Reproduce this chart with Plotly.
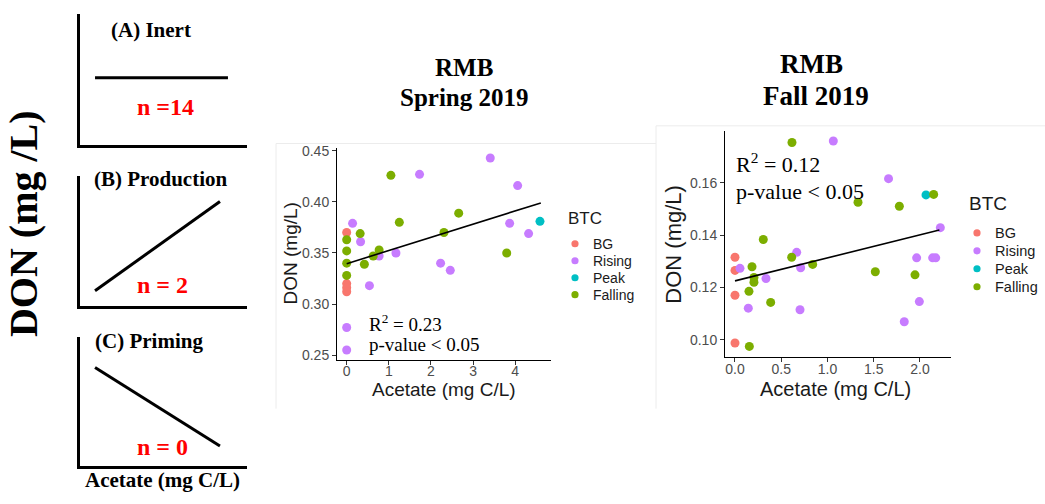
import plotly.graph_objects as go

W, H = 1045, 504

# ---- BTC phase colours (ggplot hue palette) ----
COLORS = {"BG": "#F8766D", "Rising": "#C77CFF", "Peak": "#00BFC4", "Falling": "#7CAE00"}
PHASES = ["BG", "Rising", "Peak", "Falling"]
LEGEND_TITLE = "BTC"

# ---- RMB Spring 2019: acetate (mg C/L) vs DON (mg/L) ----
spring_bg_x = [0, 0, 0, 0]
spring_bg_y = [0.370, 0.320, 0.316, 0.312]
spring_rising_x = [0.14, 0.33, 0.54, 0.77, 1.17, 1.73, 2.23, 2.46, 3.41, 4.06, 3.87, 4.32, 0, 0]
spring_rising_y = [0.379, 0.361, 0.318, 0.347, 0.350, 0.427, 0.340, 0.333, 0.443, 0.416, 0.379, 0.369, 0.277, 0.255]
spring_peak_x = [4.59]
spring_peak_y = [0.381]
spring_falling_x = [0, 0, 0, 0, 0.32, 0.42, 0.63, 0.77, 1.05, 1.25, 2.31, 2.66, 3.80]
spring_falling_y = [0.363, 0.352, 0.340, 0.328, 0.369, 0.339, 0.347, 0.353, 0.426, 0.380, 0.370, 0.389, 0.350]
spring_fit_x = [0.0, 4.61]
spring_fit_y = [0.3395, 0.399]
spring_stats = ["R<sup>2</sup> = 0.23", "p-value &lt; 0.05"]

# ---- RMB Fall 2019 ----
fall_bg_x = [0, 0, 0, 0]
fall_bg_y = [0.1315, 0.1265, 0.117, 0.0988]
fall_rising_x = [0.054, 0.144, 0.335, 0.667, 0.71, 0.703, 1.063, 1.66, 1.964, 1.993, 1.83, 2.137, 2.17, 2.22]
fall_rising_y = [0.1273, 0.1121, 0.1234, 0.1334, 0.1275, 0.1115, 0.1759, 0.1615, 0.1313, 0.1146, 0.1069, 0.1313, 0.1313, 0.1428]
fall_peak_x = [2.065]
fall_peak_y = [0.1553]
fall_falling_x = [0.616, 0.184, 0.205, 0.205, 0.151, 0.306, 0.386, 0.155, 0.613, 0.84, 1.33, 1.517, 1.777, 1.946, 2.148]
fall_falling_y = [0.1753, 0.1279, 0.1238, 0.122, 0.1185, 0.1383, 0.1143, 0.0975, 0.1315, 0.1288, 0.1525, 0.126, 0.151, 0.1248, 0.1555]
fall_fit_x = [0.0, 2.21]
fall_fit_y = [0.1225, 0.1419]
fall_stats = ["R<sup>2</sup> = 0.12", "p-value &lt; 0.05"]

# ---- conceptual response shapes (left column) ----
inert_x, inert_y = [0.09, 0.886], [0.515, 0.515]
production_x, production_y = [0.09, 0.838], [0.114, 0.803]
priming_x, priming_y = [0.09, 0.838], [0.763, 0.153]
concept_labels = ["(A) Inert", "(B) Production", "(C) Priming"]
concept_counts = ["n =14", "n = 2", "n = 0"]


def px(x):
    return x / W


def py(y):
    return 1 - y / H


SANS = "Arial, Liberation Sans, sans-serif"
SERIF = "Times New Roman, Liberation Serif, serif"

fig = go.Figure()

spring = {
    "BG": (spring_bg_x, spring_bg_y),
    "Rising": (spring_rising_x, spring_rising_y),
    "Peak": (spring_peak_x, spring_peak_y),
    "Falling": (spring_falling_x, spring_falling_y),
}
fall = {
    "BG": (fall_bg_x, fall_bg_y),
    "Rising": (fall_rising_x, fall_rising_y),
    "Peak": (fall_peak_x, fall_peak_y),
    "Falling": (fall_falling_x, fall_falling_y),
}

for data, xa, ya in [(spring, "x", "y"), (fall, "x2", "y2")]:
    for ph in PHASES:
        xs, ys = data[ph]
        fig.add_trace(go.Scatter(
            x=xs, y=ys, mode="markers", name=ph, xaxis=xa, yaxis=ya, showlegend=False,
            marker=dict(color=COLORS[ph], size=9, line=dict(width=0)),
        ))

fig.add_trace(go.Scatter(x=spring_fit_x, y=spring_fit_y, mode="lines", xaxis="x", yaxis="y",
                         line=dict(color="black", width=1.6), showlegend=False))
fig.add_trace(go.Scatter(x=fall_fit_x, y=fall_fit_y, mode="lines", xaxis="x2", yaxis="y2",
                         line=dict(color="black", width=1.6), showlegend=False))

for i, (cx, cy) in enumerate([(inert_x, inert_y), (production_x, production_y), (priming_x, priming_y)]):
    n = i + 3
    fig.add_trace(go.Scatter(x=cx, y=cy, mode="lines", xaxis=f"x{n}", yaxis=f"y{n}",
                             line=dict(color="black", width=3), showlegend=False))

axis_common = dict(showline=True, linecolor="black", linewidth=1, showgrid=False, zeroline=False,
                   ticks="outside", ticklen=4, tickwidth=1, tickcolor="#333333",
                   tickfont=dict(family=SANS, size=14, color="#4D4D4D"))

layout = dict(
    width=W, height=H, margin=dict(l=0, r=0, t=0, b=0),
    paper_bgcolor="white", plot_bgcolor="white", showlegend=False,
    xaxis=dict(domain=[px(337), px(550.5)], range=[-0.23, 4.84], tickvals=[0, 1, 2, 3, 4],
               anchor="y", ticklabelstandoff=-5, **axis_common),
    yaxis=dict(domain=[py(360), py(145)], range=[0.2456, 0.4524], tickvals=[0.25, 0.30, 0.35, 0.40, 0.45],
               tickformat=".2f", anchor="x", **axis_common),
    xaxis2=dict(domain=[px(725), px(950.6)], range=[-0.108, 2.331], tickvals=[0, 0.5, 1.0, 1.5, 2.0],
                tickformat=".1f", anchor="y2", ticklabelstandoff=-4, **axis_common),
    yaxis2=dict(domain=[py(357), py(127)], range=[0.0936, 0.1798], tickvals=[0.10, 0.12, 0.14, 0.16],
                tickformat=".2f", anchor="x2", **axis_common),
)

schem_axis = dict(showline=True, linecolor="black", linewidth=3, showgrid=False, zeroline=False,
                  showticklabels=False, ticks="", range=[0, 1], fixedrange=True)
for n, (top, bot) in zip([3, 4, 5], [(8, 142), (173, 305), (337, 468)]):
    layout[f"xaxis{n}"] = dict(domain=[px(80), px(247)], anchor=f"y{n}", **schem_axis)
    layout[f"yaxis{n}"] = dict(domain=[py(bot), py(top)], anchor=f"x{n}", **schem_axis)

fig.update_layout(**layout)


def note(text, x, y, size, family=SERIF, color="black", anchor="center", angle=0):
    fig.add_annotation(text=text, x=px(x), y=py(y), xref="paper", yref="paper", showarrow=False,
                       xanchor=anchor, yanchor="middle", textangle=angle,
                       font=dict(family=family, size=size, color=color))


# faint frames around the two scatter panels
for x0, y0 in [(276, 140), (656, 122)]:
    fig.add_shape(type="line", xref="paper", yref="paper", x0=px(x0), x1=px(x0), y0=py(y0), y1=py(410),
                  line=dict(color="#ececec", width=1))
    fig.add_shape(type="line", xref="paper", yref="paper", x0=px(x0), x1=px(x0 + 380 if x0 < 600 else W),
                  y0=py(y0), y1=py(y0), line=dict(color="#ececec", width=1))

# panel titles
note("<b>RMB</b>", 464, 63, 25)
note("<b>Spring 2019</b>", 464, 93, 25)
note("<b>RMB</b>", 811, 59, 27)
note("<b>Fall 2019</b>", 816, 92, 27)

# axis titles of the scatter panels
note("DON (mg/L)", 290, 252, 19, family=SANS, color="#1a1a1a", angle=-90)
note("Acetate (mg C/L)", 444, 390, 19, family=SANS, color="#1a1a1a")
note("DON (mg/L)", 674, 243, 22, family=SANS, color="#1a1a1a", angle=-90)
note("Acetate (mg C/L)", 835, 390, 20, family=SANS, color="#1a1a1a")

# regression statistics
note(spring_stats[0], 367, 323, 19, anchor="left")
note(spring_stats[1], 367, 345, 19, anchor="left")
note(fall_stats[0], 734, 160, 22, anchor="left")
note(fall_stats[1], 734, 189, 22, anchor="left")

# BTC keys for each scatter panel
for (tx, ty, tsize), (mx, my0, step, lsize) in [((566, 216, 17), (575, 242, 17.3, 14)),
                                                ((967, 201, 19), (977, 231, 18.3, 14.5))]:
    note(LEGEND_TITLE, tx, ty, tsize, family=SANS, color="#1a1a1a", anchor="left")
    for k, ph in enumerate(PHASES):
        cy = my0 + k * step
        fig.add_shape(type="circle", xref="paper", yref="paper",
                      x0=px(mx - 3.6), x1=px(mx + 3.6), y0=py(cy + 3.6), y1=py(cy - 3.6),
                      fillcolor=COLORS[ph], line=dict(width=0))
        note(ph, mx + 16, cy, lsize, family=SANS, color="#1a1a1a", anchor="left")

# conceptual panels
for lab, cnt, (lx, ly), (cx, cy) in zip(concept_labels, concept_counts,
                                        [(151, 24), (161, 176), (149, 341)],
                                        [(165, 103), (162, 284), (162, 449)]):
    note(f"<b>{lab}</b>", lx, ly, 21)
    note(f"<b>{cnt}</b>", cx, cy, 24, color="#ff0000")

note("<b>DON (mg /L)</b>", 23, 222, 40, angle=-90)
note("<b>Acetate (mg C/L)</b>", 162, 483, 21)

fig.write_html("out.html")
